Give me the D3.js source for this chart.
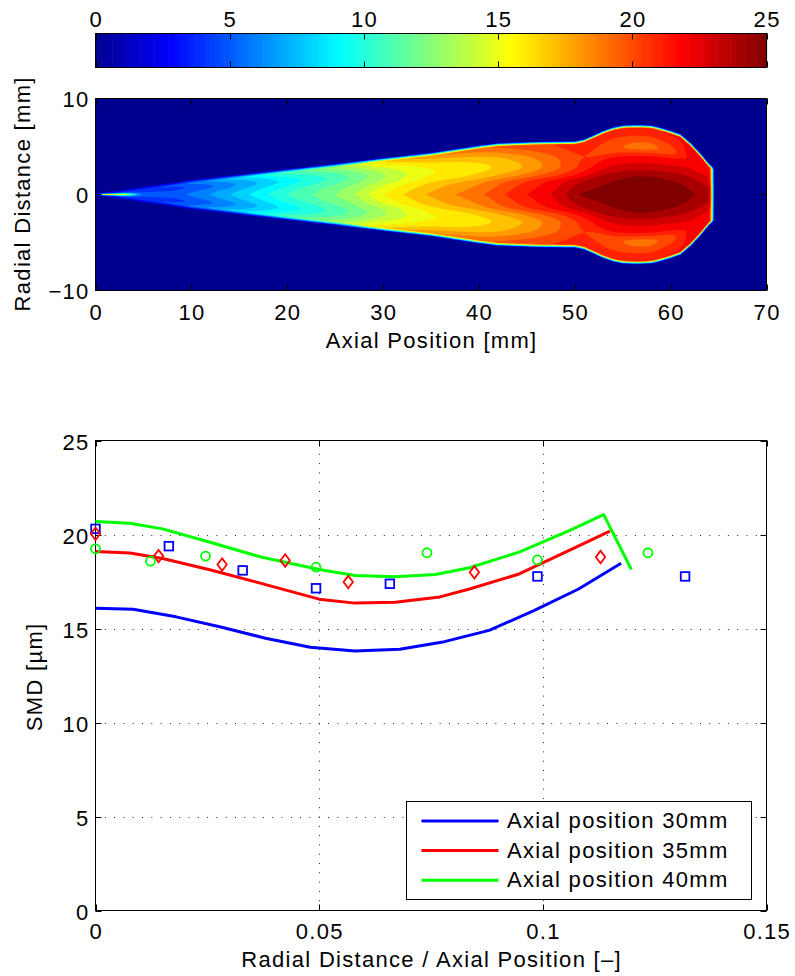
<!DOCTYPE html>
<html>
<head>
<meta charset="utf-8">
<script src="https://cdn.jsdelivr.net/npm/d3@7"></script>
<style>
  html, body { margin: 0; padding: 0; background: #fff; }
  svg { display: block; font-family: "Liberation Sans", Arial, Helvetica, sans-serif; }
  svg text { font-size: 22px; letter-spacing: 1.3px; fill: #000; }
</style>
</head>
<body>
<svg id="fig" width="795" height="976"></svg>
<script>
// ---------------- data ----------------
const colorbarTicks = [0, 5, 10, 15, 20, 25];
const axialTicks = [0, 10, 20, 30, 40, 50, 60, 70];
const radialTicks = [-10, 0, 10];
const ratioTicks = [0, 0.05, 0.1, 0.15];
const smdTicks = [0, 5, 10, 15, 20, 25];

// spray outline: half width [mm] against axial position [mm], and the tip position
const sprayEdgeX = [0, 5, 10, 15, 20, 25, 30, 35, 38, 40, 42, 46, 50, 51, 52, 53, 54, 55, 56, 57, 58, 59, 60, 61, 62, 63, 64, 64.5, 65];
const sprayEdgeR = [0, 0.7, 1.4, 1.95, 2.5, 3.05, 3.65, 4.2, 4.65, 4.95, 5.2, 5.35, 5.4, 5.6, 6.05, 6.5, 6.85, 7.05, 7.1, 7.1, 7.05, 6.8, 6.5, 6.15, 5.3, 4.25, 3.05, 2.7, 0];
const sprayTipX = 64.35;

// SMD [um] across the spray: rows = axial stations, columns = radius / half width
const profileX = [0, 2.5, 5, 7.5, 10, 13, 16, 20, 24, 27, 30, 35, 40, 44, 48, 51, 54, 57, 60, 62, 64.5];
const profileS = [0, 0.25, 0.4, 0.55, 0.7, 0.85, 1.0];
const profileSMD = [
  [20.0, 11.0, 6.0, 5.0, 5.0, 5.0, 5.0],
  [18.0, 9.0, 5.5, 5.0, 5.0, 5.0, 5.0],
  [6.0, 5.3, 4.8, 4.6, 4.8, 5.2, 5.8],
  [5.6, 5.2, 4.8, 4.6, 4.9, 5.4, 6.0],
  [6.2, 5.8, 5.4, 5.2, 5.6, 6.3, 7.2],
  [7.5, 7.0, 6.5, 6.3, 6.7, 7.6, 8.6],
  [9.0, 8.4, 7.9, 7.6, 8.0, 9.0, 10.2],
  [11.0, 10.4, 9.8, 9.4, 9.9, 11.0, 12.2],
  [12.6, 12.0, 11.4, 11.0, 11.4, 12.5, 14.0],
  [14.0, 13.3, 12.7, 12.3, 12.8, 13.9, 15.5],
  [16.0, 15.0, 14.1, 13.85, 14.5, 15.9, 18.0],
  [18.2, 17.3, 16.3, 15.9, 16.3, 17.6, 19.5],
  [19.8, 18.8, 17.3, 16.7, 17.2, 18.6, 20.3],
  [21.6, 20.6, 18.7, 17.8, 18.3, 19.6, 20.9],
  [23.3, 22.4, 20.6, 19.7, 19.9, 20.6, 21.3],
  [25.2, 24.0, 22.3, 21.3, 21.0, 21.3, 21.8],
  [25.5, 24.8, 23.3, 22.2, 20.3, 21.0, 22.2],
  [25.6, 25.1, 23.5, 22.2, 19.6, 20.9, 22.3],
  [25.5, 24.9, 23.5, 22.3, 20.6, 21.4, 22.3],
  [25.2, 24.6, 23.6, 22.8, 22.2, 22.2, 22.4],
  [24.0, 23.8, 23.4, 23.1, 22.9, 22.7, 22.5]
];

// simulated radial SMD profiles
const ratio30 = [0, 0.0084, 0.018, 0.028, 0.038, 0.048, 0.058, 0.068, 0.078, 0.088, 0.098, 0.108, 0.1175];
const smd30 = [16.08, 16.02, 15.62, 15.08, 14.48, 14.0, 13.8, 13.9, 14.3, 14.9, 15.95, 17.1, 18.47];
const ratio35 = [0, 0.0077, 0.015, 0.026, 0.037, 0.05, 0.058, 0.067, 0.077, 0.0836, 0.0947, 0.1059, 0.115];
const smd35 = [19.1, 19.02, 18.72, 18.1, 17.4, 16.56, 16.35, 16.4, 16.68, 17.1, 17.9, 19.15, 20.18];
const ratio40 = [0, 0.0077, 0.015, 0.026, 0.037, 0.05, 0.058, 0.067, 0.076, 0.0836, 0.0947, 0.1059, 0.1136, 0.1198];
const smd40 = [20.69, 20.6, 20.3, 19.56, 18.8, 18.14, 17.82, 17.75, 17.87, 18.23, 19.06, 20.21, 21.06, 18.14];

// measured SMD
const expRatio30 = [0, 0.0164, 0.0329, 0.0493, 0.0658, 0.0988, 0.1318];
const expSmd30 = [20.3, 19.38, 18.09, 17.14, 17.38, 17.77, 17.77];
const expRatio35 = [0, 0.0141, 0.0283, 0.0424, 0.0565, 0.0847, 0.1129];
const expSmd35 = [20.04, 18.85, 18.4, 18.62, 17.47, 17.99, 18.8];
const expRatio40 = [0, 0.0123, 0.0246, 0.0493, 0.0741, 0.0988, 0.1235];
const expSmd40 = [19.24, 18.58, 18.85, 18.26, 19.03, 18.65, 19.03];

const legendLabels = ["Axial position 30mm", "Axial position 35mm", "Axial position 40mm"];

// ---------------- styling / layout ----------------
const LS = 1.3;                  // letter spacing of all text
const left = 95.5, right = 766.5;
const tickLen = 6;
const svg = d3.select("#fig");

// MATLAB-style jet colormap over 0..25
const jetStops = [0, 7 / 63, 23 / 63, 39 / 63, 55 / 63, 1];
const jetColors = ["#00008f", "#0000ff", "#00ffff", "#ffff00", "#ff0000", "#800000"];
const cMin = 0, cMax = 25;
const jet = d3.scaleLinear()
  .domain(jetStops.map(t => cMin + t * (cMax - cMin)))
  .range(jetColors)
  .interpolate(d3.interpolateRgb)
  .clamp(true);

function addText(g, x, y, str, anchor) {
  const adj = anchor === "end" ? LS : anchor === "middle" ? LS / 2 : 0;
  return g.append("text").attr("x", x + adj).attr("y", y)
    .attr("text-anchor", anchor || "start").text(str);
}
const fmtNeg = v => (v < 0 ? "\u2212" + Math.abs(v) : String(v));

// monotone cubic (Fritsch-Butland) through tabulated points
function monotone(xs, ys) {
  const n = xs.length, d = [], m = new Array(n);
  for (let i = 0; i < n - 1; i++) d[i] = (ys[i + 1] - ys[i]) / (xs[i + 1] - xs[i]);
  m[0] = d[0]; m[n - 1] = d[n - 2];
  for (let i = 1; i < n - 1; i++) {
    if (d[i - 1] * d[i] <= 0) m[i] = 0;
    else {
      const h0 = xs[i] - xs[i - 1], h1 = xs[i + 1] - xs[i];
      m[i] = 3 * (h0 + h1) / ((2 * h1 + h0) / d[i - 1] + (h1 + 2 * h0) / d[i]);
    }
  }
  return x => {
    if (x <= xs[0]) return ys[0];
    if (x >= xs[n - 1]) return ys[n - 1];
    const k = Math.min(n - 2, d3.bisectRight(xs, x) - 1);
    const h = xs[k + 1] - xs[k], t = (x - xs[k]) / h, t2 = t * t, t3 = t2 * t;
    return (2 * t3 - 3 * t2 + 1) * ys[k] + (t3 - 2 * t2 + t) * h * m[k]
         + (-2 * t3 + 3 * t2) * ys[k + 1] + (t3 - t2) * h * m[k + 1];
  };
}

// ---------------- colorbar ----------------
const cbTop = 33.5, cbBot = 67.5;
const cbX = d3.scaleLinear().domain([cMin, cMax]).range([left, right]);
const cbG = svg.append("g");
const nColors = 240;
const cbStep = (cMax - cMin) / nColors;
cbG.selectAll("rect.band").data(d3.range(nColors)).join("rect")
  .attr("class", "band")
  .attr("x", k => cbX(cMin + k * cbStep))
  .attr("y", cbTop)
  .attr("width", k => cbX(cMin + (k + 1) * cbStep) - cbX(cMin + k * cbStep) + 0.6)
  .attr("height", cbBot - cbTop)
  .attr("fill", k => jet(cMin + (k + 0.5) * cbStep));
cbG.append("rect").attr("x", left).attr("y", cbTop).attr("width", right - left).attr("height", cbBot - cbTop)
  .attr("fill", "none").attr("stroke", "#000").attr("stroke-width", 1);
colorbarTicks.forEach(v => {
  const x = Math.round(cbX(v)) + 0.5;
  cbG.append("line").attr("x1", x).attr("x2", x).attr("y1", cbTop).attr("y2", cbTop + tickLen).attr("stroke", "#000");
  cbG.append("line").attr("x1", x).attr("x2", x).attr("y1", cbBot).attr("y2", cbBot - tickLen).attr("stroke", "#000");
  addText(cbG, cbX(v), 27, String(v), "middle");
});

// ---------------- spray SMD map ----------------
const topY0 = 98.5, topY1 = 290.5;
const xTop = d3.scaleLinear().domain([0, 70]).range([left, right]);
const yTop = d3.scaleLinear().domain([-10, 10]).range([topY1, topY0]);

const edgeScale = d3.scaleLinear().domain(sprayEdgeX).range(sprayEdgeR).clamp(true);
// one axial interpolator per radial column of the table
const columnInterp = profileS.map((s, c) => monotone(profileX, profileSMD.map(row => row[c])));
const edgeBlur = 0.36, tipBlur = 0.45;   // width [mm] of the drop-off at the spray boundary
const clamp01 = v => Math.max(0, Math.min(1, v));

const dxMm = 0.2, nx = Math.round(70 / dxMm) + 1;
const drMm = 0.1, ny = Math.round(20 / drMm) + 1;
const grid = new Float64Array(nx * ny);
for (let i = 0; i < nx; i++) {
  const x = i * dxMm;
  const R = edgeScale(x);
  const radial = monotone(profileS, columnInterp.map(f => f(x)));
  const tipFactor = clamp01((sprayTipX - x) / tipBlur + 0.5);
  for (let j = 0; j < ny; j++) {
    const a = Math.abs(10 - j * drMm);
    let v = 0;
    if (R > 0 && tipFactor > 0) {
      const edgeFactor = clamp01((R - a) / edgeBlur + 0.5);
      if (edgeFactor > 0) v = radial(Math.min(1, a / R)) * edgeFactor * tipFactor;
    }
    grid[j * nx + i] = v;
  }
}
const levels = d3.range(0, 26);
const bands = d3.contours().size([nx, ny]).thresholds(levels)(grid);
const gridProj = d3.geoTransform({
  point(gx, gy) { this.stream.point(xTop((gx - 0.5) * dxMm), yTop(10 - (gy - 0.5) * drMm)); }
});
const gridPath = d3.geoPath(gridProj);

svg.append("clipPath").attr("id", "clipTop").append("rect")
  .attr("x", left).attr("y", topY0).attr("width", right - left).attr("height", topY1 - topY0);
const mapG = svg.append("g").attr("clip-path", "url(#clipTop)");
mapG.append("rect").attr("x", left).attr("y", topY0).attr("width", right - left).attr("height", topY1 - topY0)
  .attr("fill", jet(0));
mapG.selectAll("path").data(bands).join("path")
  .attr("d", gridPath)
  .attr("fill", d => jet(d.value));

const topAx = svg.append("g");
topAx.append("rect").attr("x", left).attr("y", topY0).attr("width", right - left).attr("height", topY1 - topY0)
  .attr("fill", "none").attr("stroke", "#000");
axialTicks.forEach(v => {
  const x = Math.round(xTop(v)) + 0.5;
  topAx.append("line").attr("x1", x).attr("x2", x).attr("y1", topY1).attr("y2", topY1 - tickLen).attr("stroke", "#000");
  topAx.append("line").attr("x1", x).attr("x2", x).attr("y1", topY0).attr("y2", topY0 + tickLen).attr("stroke", "#000");
  addText(topAx, xTop(v), 320, String(v), "middle");
});
radialTicks.forEach(v => {
  const y = yTop(v);
  topAx.append("line").attr("x1", left).attr("x2", left + tickLen).attr("y1", y).attr("y2", y).attr("stroke", "#000");
  topAx.append("line").attr("x1", right).attr("x2", right - tickLen).attr("y1", y).attr("y2", y).attr("stroke", "#000");
  addText(topAx, 88.3, y + 8, fmtNeg(v), "end");
});
addText(topAx, (left + right) / 2, 348, "Axial Position [mm]", "middle");
topAx.append("text").attr("transform", `translate(29.5,${(topY0 + topY1) / 2}) rotate(-90)`)
  .attr("x", LS / 2).attr("text-anchor", "middle").text("Radial Distance [mm]");

// ---------------- SMD profiles ----------------
const botY0 = 440.5, botY1 = 910.5;
const xBot = d3.scaleLinear().domain([0, 0.15]).range([left, right]);
const yBot = d3.scaleLinear().domain([0, 25]).range([botY1, botY0]);
const botG = svg.append("g");

// dotted grid
const gridG = botG.append("g").attr("stroke", "#222").attr("stroke-width", 1).attr("stroke-dasharray", "1,8.3");
ratioTicks.slice(1, -1).forEach(v => {
  const x = Math.round(xBot(v)) + 0.5;
  gridG.append("line").attr("x1", x).attr("x2", x).attr("y1", botY1).attr("y2", botY0);
});
smdTicks.slice(1, -1).forEach(v => {
  const y = Math.round(yBot(v)) + 0.5;
  gridG.append("line").attr("x1", left).attr("x2", right).attr("y1", y).attr("y2", y);
});

botG.append("rect").attr("x", left).attr("y", botY0).attr("width", right - left).attr("height", botY1 - botY0)
  .attr("fill", "none").attr("stroke", "#000");
ratioTicks.forEach(v => {
  const x = Math.round(xBot(v)) + 0.5;
  botG.append("line").attr("x1", x).attr("x2", x).attr("y1", botY1).attr("y2", botY1 - tickLen).attr("stroke", "#000");
  botG.append("line").attr("x1", x).attr("x2", x).attr("y1", botY0).attr("y2", botY0 + tickLen).attr("stroke", "#000");
  addText(botG, xBot(v), 939, String(v), "middle");
});
smdTicks.forEach(v => {
  const y = Math.round(yBot(v)) + 0.5;
  botG.append("line").attr("x1", left).attr("x2", left + tickLen).attr("y1", y).attr("y2", y).attr("stroke", "#000");
  botG.append("line").attr("x1", right).attr("x2", right - tickLen).attr("y1", y).attr("y2", y).attr("stroke", "#000");
  addText(botG, 88.3, y + 8, String(v), "end");
});
addText(botG, (left + right) / 2, 967, "Radial Distance / Axial Position [\u2013]", "middle");
botG.append("text").attr("transform", `translate(42,${(botY0 + botY1) / 2 + 2}) rotate(-90)`)
  .attr("x", LS / 2).attr("text-anchor", "middle").text("SMD [\u00b5m]");

const lineGen = d3.line().x(d => xBot(d[0])).y(d => yBot(d[1]));
const simSeries = [
  { ratio: ratio30, smd: smd30, color: "#0000ff" },
  { ratio: ratio35, smd: smd35, color: "#ff0000" },
  { ratio: ratio40, smd: smd40, color: "#00ff00" }
];
simSeries.forEach(s => {
  botG.append("path").datum(d3.zip(s.ratio, s.smd)).attr("d", lineGen)
    .attr("fill", "none").attr("stroke", s.color).attr("stroke-width", 3)
    .attr("stroke-linejoin", "round").attr("stroke-linecap", "butt");
});

// measured points
const mk = botG.append("g").attr("fill", "none").attr("stroke-width", 1.8);
mk.selectAll("rect.sq").data(d3.zip(expRatio30, expSmd30)).join("rect").attr("class", "sq")
  .attr("x", d => xBot(d[0]) - 4.3).attr("y", d => yBot(d[1]) - 4.3)
  .attr("width", 8.6).attr("height", 8.6).attr("stroke", "#0000ff");
mk.selectAll("path.dm").data(d3.zip(expRatio35, expSmd35)).join("path").attr("class", "dm")
  .attr("d", d => {
    const x = xBot(d[0]), y = yBot(d[1]);
    return `M${x},${y - 6.2}L${x + 4.7},${y}L${x},${y + 6.2}L${x - 4.7},${y}Z`;
  }).attr("stroke", "#ff0000");
mk.selectAll("circle").data(d3.zip(expRatio40, expSmd40)).join("circle")
  .attr("cx", d => xBot(d[0])).attr("cy", d => yBot(d[1])).attr("r", 4.5).attr("stroke", "#00ff00");

// legend
const lg = botG.append("g");
lg.append("rect").attr("x", 406.5).attr("y", 801.5).attr("width", 345).attr("height", 98)
  .attr("fill", "#fff").attr("stroke", "#000");
legendLabels.forEach((t, i) => {
  const y = 821 + i * 29.6;
  lg.append("line").attr("x1", 421.5).attr("x2", 498.5).attr("y1", y).attr("y2", y)
    .attr("stroke", simSeries[i].color).attr("stroke-width", 3);
  addText(lg, 507, y + 7.2, t, "start");
});
</script>
</body>
</html>
